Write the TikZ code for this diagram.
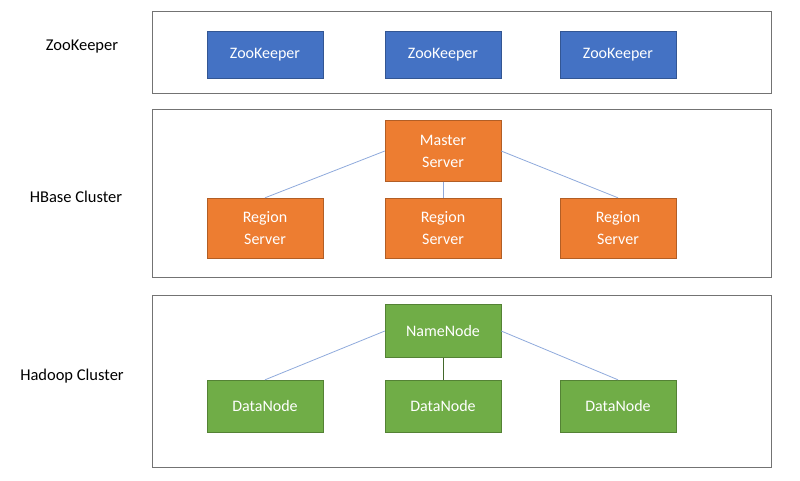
\documentclass[tikz,border=0pt]{standalone}
\usepackage{fontspec}
\setmainfont{Carlito}
\usetikzlibrary{positioning}
\definecolor{zkblue}{HTML}{4472C4}
\definecolor{hborange}{HTML}{ED7D31}
\definecolor{hdgreen}{HTML}{70AD47}
\definecolor{linkblue}{HTML}{8FAADC}

\begin{document}
\begin{tikzpicture}[x=1pt,y=-1pt,
	cluster/.style={draw=black!55,line width=1pt},
	box/.style={draw=#1!75!black,fill=#1,text=white,minimum width=116pt,align=center,font=\fontsize{16}{22}\selectfont},
	caption/.style={font=\fontsize{16.5}{20}\selectfont},
	link/.style={draw=linkblue,line width=0.8pt}]
	\useasboundingbox (0,0) rectangle (800,480);

	% clusters
	\draw [cluster] (152,11) rectangle (771,93);
	\draw [cluster] (152,109) rectangle (771,277);
	\draw [cluster] (152,295) rectangle (771,467);
	\node [caption] (zklabel) at (82,47)  {ZooKeeper};
	\node [caption] (hblabel) at (76,197) {HBase Cluster};
	\node [caption] (hdlabel) at (72,376) {Hadoop Cluster};

	% zookeeper
	\node (zk1) at (265,55) [box=zkblue,minimum height=47pt] {ZooKeeper};
	\node (zk2) at (443,55) [box=zkblue,minimum height=47pt] {ZooKeeper};
	\node (zk3) at (618,55) [box=zkblue,minimum height=47pt] {ZooKeeper};

	% hbase
	\node (master) at (443,151) [box=hborange,minimum height=61pt] {Master\\Server};
	\node (rs1) at (265,228) [box=hborange,minimum height=60pt] {Region\\Server};
	\node (rs2) at (443,228) [box=hborange,minimum height=60pt] {Region\\Server};
	\node (rs3) at (618,228) [box=hborange,minimum height=60pt] {Region\\Server};
	\draw [link] (master.west) -- (rs1.north);
	\draw [link] (master.south) -- (rs2.north);
	\draw [link] (master.east) -- (rs3.north);

	% hadoop
	\node (nn) at (443,331) [box=hdgreen,minimum height=53pt] {NameNode};
	\node (dn1) at (265,406) [box=hdgreen,minimum height=52pt] {DataNode};
	\node (dn2) at (443,406) [box=hdgreen,minimum height=52pt] {DataNode};
	\node (dn3) at (618,406) [box=hdgreen,minimum height=52pt] {DataNode};
	\draw [link] (nn.west) -- (dn1.north);
	\draw [draw=hdgreen!60!black,line width=1pt] (nn.south) -- (dn2.north);
	\draw [link] (nn.east) -- (dn3.north);
\end{tikzpicture}
\end{document}
